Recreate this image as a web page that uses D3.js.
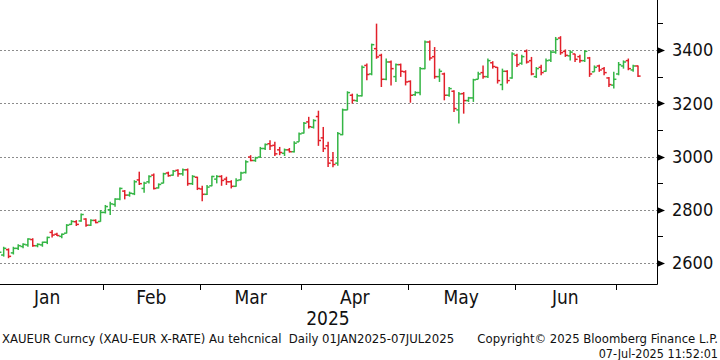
<!DOCTYPE html>
<html>
<head>
<meta charset="utf-8">
<script src="https://cdn.jsdelivr.net/npm/d3@7"></script>
<style>
  body { margin: 0; background: #fff; }
  svg { display: block; font-family: "DejaVu Sans Condensed", "DejaVu Sans", sans-serif; }
</style>
</head>
<body>
<script>
// daily XAUEUR, one value per weekday from 01JAN2025 to 07JUL2025
var opens = [2622,2628,2630,2650,2638,2655,2662,2668,2688,2665,2668,2678,2715,2708,2700,2712,2745,2755,2758,2765,2742,2760,2756,
  2790,2800,2820,2840,2870,2855,2860,2912,2880,2905,2930,2882,2900,2938,2930,2948,2935,2950,2898,2922,
  2878,2858,2890,2915,2925,2915,2905,2888,2912,2940,2998,2985,2998,3030,3048,3042,3025,3012,3025,3018,3055,
  3088,3130,3110,3150,3070,3040,2985,2975,3082,3175,3230,3210,3228,3342,3310,3405,3380,3290,3355,3300,3345,3318,
  3282,3232,3240,3330,3430,3375,3300,3310,3230,3245,3175,3236,3210,3220,3290,3315,3300,3352,3335,3270,3320,3295,
  3380,3350,3395,3360,3300,3335,3320,3362,3392,3445,3395,3378,3385,3375,3360,3370,3318,3340,3330,3295,3268,
  3310,3340,3360,3325,3340]
var highs = [2640,2648,2661,2655,2661,2670,2674,2693,2693,2674,2680,2699,2724,2714,2711,2746,2761,2761,2786,2768,2764,2764,2799,
  2818,2830,2843,2884,2874,2868,2911,2943,2905,2930,2936,2899,2939,2943,2949,2952,2955,2955,2930,2924,
  2890,2893,2928,2930,2930,2924,2911,2918,2943,2986,3005,2999,3036,3049,3061,3055,3036,3030,3032,3057,3090,
  3130,3149,3140,3172,3111,3055,3017,3092,3180,3245,3236,3236,3342,3349,3424,3499,3386,3368,3361,3349,3349,3324,
  3286,3245,3336,3436,3436,3411,3330,3315,3261,3249,3242,3242,3224,3292,3318,3342,3368,3358,3336,3330,3324,3392,
  3386,3382,3402,3374,3336,3345,3368,3399,3449,3452,3402,3399,3386,3382,3399,3374,3342,3345,3336,3299,3318,
  3355,3361,3368,3345,3342]
var lows = [2612,2620,2624,2618,2632,2649,2655,2661,2661,2659,2661,2671,2696,2701,2693,2711,2743,2739,2755,2736,2739,2749,2755,
  2786,2780,2811,2836,2839,2849,2855,2893,2864,2899,2876,2880,2899,2924,2928,2924,2928,2890,2893,2874,
  2832,2855,2888,2899,2890,2893,2880,2886,2911,2936,2982,2980,2995,3024,3024,3002,3005,3002,3015,3015,3055,
  3086,3105,3105,3040,3017,2961,2960,2965,3080,3174,3199,3205,3225,3286,3305,3367,3261,3286,3267,3280,3299,3267,
  3202,3228,3230,3328,3361,3292,3280,3211,3224,3167,3124,3161,3205,3205,3290,3292,3295,3330,3274,3249,3274,3292,
  3336,3345,3349,3305,3295,3305,3318,3355,3386,3382,3374,3361,3355,3352,3355,3299,3318,3318,3305,3261,3255,
  3305,3330,3324,3318,3299]
var closes = [2632,2640,2655,2625,2655,2665,2670,2690,2665,2670,2678,2696,2705,2703,2708,2742,2756,2745,2782,2742,2760,2752,2790,
  2812,2822,2840,2880,2855,2862,2905,2898,2900,2925,2880,2895,2935,2928,2945,2935,2950,2898,2925,2880,
  2858,2885,2925,2925,2910,2905,2888,2910,2938,2980,2985,2995,3030,3045,3040,3010,3015,3025,3018,3050,3085,
  3125,3112,3135,3060,3030,2975,2970,3086,3175,3240,3211,3228,3335,3308,3420,3374,3290,3355,3330,3345,3320,3280,
  3230,3240,3330,3430,3370,3300,3320,3230,3255,3180,3235,3210,3220,3288,3310,3300,3360,3338,3285,3320,3285,3385,
  3345,3375,3355,3310,3330,3315,3360,3392,3440,3390,3380,3392,3365,3360,3395,3310,3335,3325,3315,3270,3290,
  3345,3355,3330,3340,3302]

var monthNames = ['Jan', 'Feb', 'Mar', 'Apr', 'May', 'Jun']
var priceTicks = [2600, 2800, 3000, 3200, 3400]
var minorTicks = [2700, 2900, 3100, 3300, 3500]
var yearLabel = '2025'
var footLeft = 'XAUEUR Curncy (XAU-EUR X-RATE) Au tehcnical  Daily 01JAN2025-07JUL2025'
var footRight = 'Copyright\u00a9 2025 Bloomberg Finance L.P.'
var footStamp = '07-Jul-2025 11:52:01'

var width = 720
var height = 360
var plotRight = 657
var plotBottom = 284
var upColor = '#34b545'
var downColor = '#e2202a'

// weekday calendar for the bars
var days = d3.timeDay.range(new Date(2025, 0, 1), new Date(2025, 6, 8))
  .filter(function (d) { return d.getDay() !== 0 && d.getDay() !== 6 })

var bars = days.map(function (d, i) {
  return { date: d, i: i, o: opens[i], h: highs[i], l: lows[i], c: closes[i] }
})

var x = d3.scaleLinear().domain([0, 133]).range([-6, 638])
var y = d3.scaleLinear().domain([2600, 3400]).range([263, 50])

var svg = d3.select('body')
  .append('svg')
  .attr('width', width)
  .attr('height', height)

svg.append('defs').append('clipPath').attr('id', 'plot')
  .append('rect')
  .attr('x', 0).attr('y', 0)
  .attr('width', plotRight).attr('height', plotBottom)

// dotted grid
svg.append('g')
  .selectAll('line')
  .data(priceTicks)
  .join('line')
  .attr('x1', 0)
  .attr('x2', plotRight)
  .attr('y1', function (d) { return Math.round(y(d)) + 0.5 })
  .attr('y2', function (d) { return Math.round(y(d)) + 0.5 })
  .attr('stroke', '#8c8c8c')
  .attr('stroke-width', 1)
  .attr('stroke-dasharray', '2,2')

// ohlc bars
var barG = svg.append('g').attr('clip-path', 'url(#plot)')
var bar = barG.selectAll('g')
  .data(bars)
  .join('g')
  .attr('stroke', function (d) { return d.c >= d.o ? upColor : downColor })
  .attr('stroke-width', 1.5)

bar.append('line')
  .attr('x1', function (d) { return x(d.i) })
  .attr('x2', function (d) { return x(d.i) })
  .attr('y1', function (d) { return y(d.h) })
  .attr('y2', function (d) { return y(d.l) })
bar.append('line')
  .attr('x1', function (d) { return x(d.i) - 2.6 })
  .attr('x2', function (d) { return x(d.i) })
  .attr('y1', function (d) { return y(d.o) })
  .attr('y2', function (d) { return y(d.o) })
bar.append('line')
  .attr('x1', function (d) { return x(d.i) })
  .attr('x2', function (d) { return x(d.i) + 2.6 })
  .attr('y1', function (d) { return y(d.c) })
  .attr('y2', function (d) { return y(d.c) })

// frame: bottom and right axis
svg.append('line')
  .attr('x1', 0).attr('x2', plotRight + 0.5)
  .attr('y1', plotBottom + 0.5).attr('y2', plotBottom + 0.5)
  .attr('stroke', '#000')
svg.append('line')
  .attr('x1', plotRight + 0.5).attr('x2', plotRight + 0.5)
  .attr('y1', 0).attr('y2', plotBottom + 0.5)
  .attr('stroke', '#000')

// right axis ticks
var yAxis = svg.append('g')
yAxis.selectAll('path.major')
  .data(priceTicks)
  .join('path')
  .attr('class', 'major')
  .attr('d', function (d) {
    var yy = Math.round(y(d)) + 0.5
    return 'M' + plotRight + ',' + (yy - 3.5) + 'L' + (plotRight + 8) + ',' + yy + 'L' + plotRight + ',' + (yy + 3.5) + 'Z'
  })
  .attr('fill', '#000')
yAxis.selectAll('line.minor')
  .data(minorTicks)
  .join('line')
  .attr('class', 'minor')
  .attr('x1', plotRight).attr('x2', plotRight + 6)
  .attr('y1', function (d) { return Math.round(y(d)) + 0.5 })
  .attr('y2', function (d) { return Math.round(y(d)) + 0.5 })
  .attr('stroke', '#000')
yAxis.selectAll('text')
  .data(priceTicks)
  .join('text')
  .attr('x', 672)
  .attr('y', function (d) { return y(d) })
  .attr('dy', '0.36em')
  .attr('font-size', 18)
  .attr('fill', '#111')
  .text(function (d) { return d })

// month boundaries and labels
var bounds = []
bars.forEach(function (d, i) {
  if (i > 0 && d.date.getMonth() !== bars[i - 1].date.getMonth()) bounds.push(i - 0.5)
})
svg.append('g')
  .selectAll('line')
  .data(bounds)
  .join('line')
  .attr('x1', function (d) { return Math.round(x(d)) + 0.5 })
  .attr('x2', function (d) { return Math.round(x(d)) + 0.5 })
  .attr('y1', plotBottom)
  .attr('y2', plotBottom + 6)
  .attr('stroke', '#000')

var starts = [-0.5].concat(bounds)
svg.append('g')
  .selectAll('text')
  .data(monthNames)
  .join('text')
  .attr('x', function (d, i) { return x((starts[i] + starts[i + 1]) / 2) })
  .attr('y', 304)
  .attr('text-anchor', 'middle')
  .attr('font-size', 19)
  .attr('fill', '#111')
  .text(function (d) { return d })

svg.append('text')
  .attr('x', 328)
  .attr('y', 325)
  .attr('text-anchor', 'middle')
  .attr('font-size', 19)
  .attr('fill', '#111')
  .text(yearLabel)

// footer
svg.append('text')
  .attr('x', 2)
  .attr('y', 342.5)
  .attr('font-size', 13)
  .attr('fill', '#111')
  .style('white-space', 'pre')
  .text(footLeft)
svg.append('text')
  .attr('x', 718)
  .attr('y', 342.5)
  .attr('text-anchor', 'end')
  .attr('font-size', 13)
  .attr('fill', '#111')
  .text(footRight)
svg.append('text')
  .attr('x', 718)
  .attr('y', 357.5)
  .attr('text-anchor', 'end')
  .attr('font-size', 12.5)
  .attr('fill', '#111')
  .text(footStamp)
</script>
</body>
</html>
